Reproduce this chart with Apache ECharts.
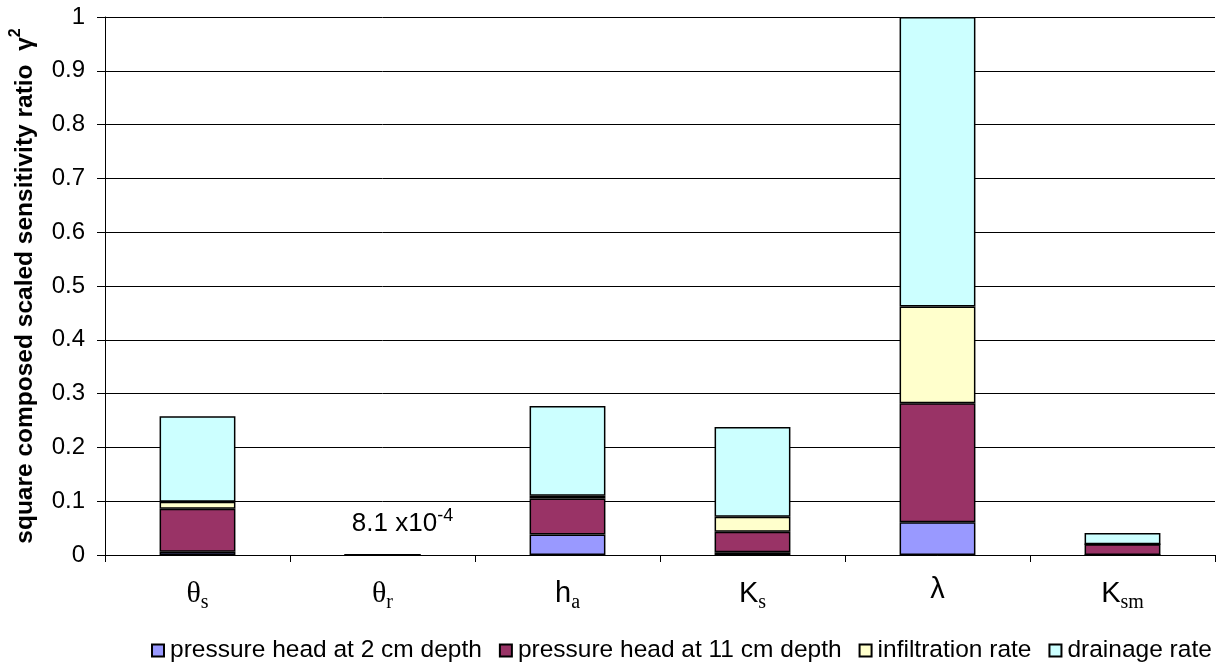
<!DOCTYPE html>
<html>
<head>
<meta charset="utf-8">
<script src="https://cdn.jsdelivr.net/npm/echarts@6/dist/echarts.min.js"></script>
<style>
  html, body { margin: 0; padding: 0; background: #fff; }
  #chart { width: 1220px; height: 663px; }
</style>
</head>
<body>
<div id="chart"></div>
<script>
// Parameters (category keys map to rich-text labels below)
const categories = ['ts', 'tr', 'ha', 'Ks', 'lambda', 'Ksm'];
const seriesNames = ['pressure head at 2 cm depth', 'pressure head at 11 cm depth', 'infiltration rate', 'drainage rate'];

// Composed scaled sensitivity (squared), per observation type
const head2cm    = [0.006, 0,       0.038, 0.005, 0.061, 0];
const head11cm   = [0.080, 0,       0.067, 0.038, 0.221, 0.020];
const infiltr    = [0.013, 0,       0.005, 0.028, 0.180, 0];
const drainage   = [0.159, 0.00081, 0.167, 0.167, 0.538, 0.021];

const yTicks = [0, 0.1, 0.2, 0.3, 0.4, 0.5, 0.6, 0.7, 0.8, 0.9, 1];
const colors = ['#9999FF', '#993366', '#FFFFCC', '#CCFFFF'];

const catLabel = {
  ts: '{g|θ}{sub|s}',
  tr: '{g|θ}{sub|r}',
  ha: '{m|h}{sub|a}',
  Ks: '{m|K}{sub|s}',
  lambda: '{m|λ}',
  Ksm: '{m|K}{sub|sm}'
};

const allData = [head2cm, head11cm, infiltr, drainage];
const series = allData.map((arr, si) => ({
  name: seriesNames[si],
  type: 'bar',
  stack: 'total',
  barWidth: '41%',
  itemStyle: { color: colors[si], borderColor: '#000', borderWidth: 1.5 },
  emphasis: { disabled: true },
  data: arr.map((v, i) => {
    // total of the theta_r bar is annotated
    if (si === 3 && categories[i] === 'tr') {
      const total = allData.reduce((s, a) => s + a[i], 0);
      return {
        value: v,
        label: {
          show: true,
          position: 'top',
          distance: 13,
          offset: [20, 0],
          formatter: () => '{n|' + (total * 1e4).toFixed(1) + ' x10}{e|-4}',
          rich: {
            n: { fontFamily: 'Liberation Sans', fontSize: 26, color: '#000' },
            e: { fontFamily: 'Liberation Sans', fontSize: 18, color: '#000', padding: [0, 0, 16, 0] }
          }
        }
      };
    }
    return v;
  })
}));

const chart = echarts.init(document.getElementById('chart'), null, { renderer: 'canvas' });
chart.setOption({
  animation: false,
  backgroundColor: '#fff',
  grid: { left: 105, right: 5, top: 17, bottom: 108, containLabel: false, outerBoundsMode: 'none' },
  legend: {
    top: 633,
    left: 146,
    itemWidth: 12,
    itemHeight: 12,
    itemGap: 17,
    icon: 'rect',
    textStyle: { fontFamily: 'Liberation Sans', fontSize: 24.5, color: '#000', padding: [0, 0, 0, 1] },
    data: seriesNames
  },
  xAxis: {
    type: 'category',
    data: categories,
    axisLine: { lineStyle: { color: '#000', width: 1 } },
    axisTick: { show: true, length: 7, lineStyle: { color: '#000' } },
    axisLabel: {
      margin: 20,
      formatter: (v) => catLabel[v],
      rich: {
        g: { fontFamily: 'Liberation Serif', fontSize: 30, color: '#000' },
        m: { fontFamily: 'Liberation Sans', fontSize: 29, color: '#000' },
        sub: { fontFamily: 'Liberation Serif', fontSize: 20, color: '#000', padding: [18, 0, 0, 0] }
      }
    }
  },
  yAxis: {
    type: 'value',
    min: 0,
    max: 1,
    interval: 0.1,
    name: '{t|square composed scaled sensitivity ratio  γ}{s|2}',
    nameLocation: 'middle',
    nameGap: 63,
    nameTextStyle: {
      rich: {
        t: { fontFamily: 'Liberation Sans', fontWeight: 'bold', fontSize: 24.5, color: '#000' },
        s: { fontFamily: 'Liberation Sans', fontWeight: 'bold', fontSize: 16, color: '#000', padding: [0, 0, 18, 0] }
      }
    },
    axisLine: { show: true, lineStyle: { color: '#000', width: 1 } },
    axisTick: { show: true, length: 8, lineStyle: { color: '#000' } },
    axisLabel: {
      margin: 20,
      fontFamily: 'Liberation Sans',
      fontSize: 24,
      color: '#000',
      formatter: (v) => {
        const t = yTicks.find(k => Math.abs(k - v) < 1e-9);
        return t === undefined ? '' : String(t);
      }
    },
    splitLine: { show: true, lineStyle: { color: '#000', width: 1 } }
  },
  series: series
});
</script>
</body>
</html>
